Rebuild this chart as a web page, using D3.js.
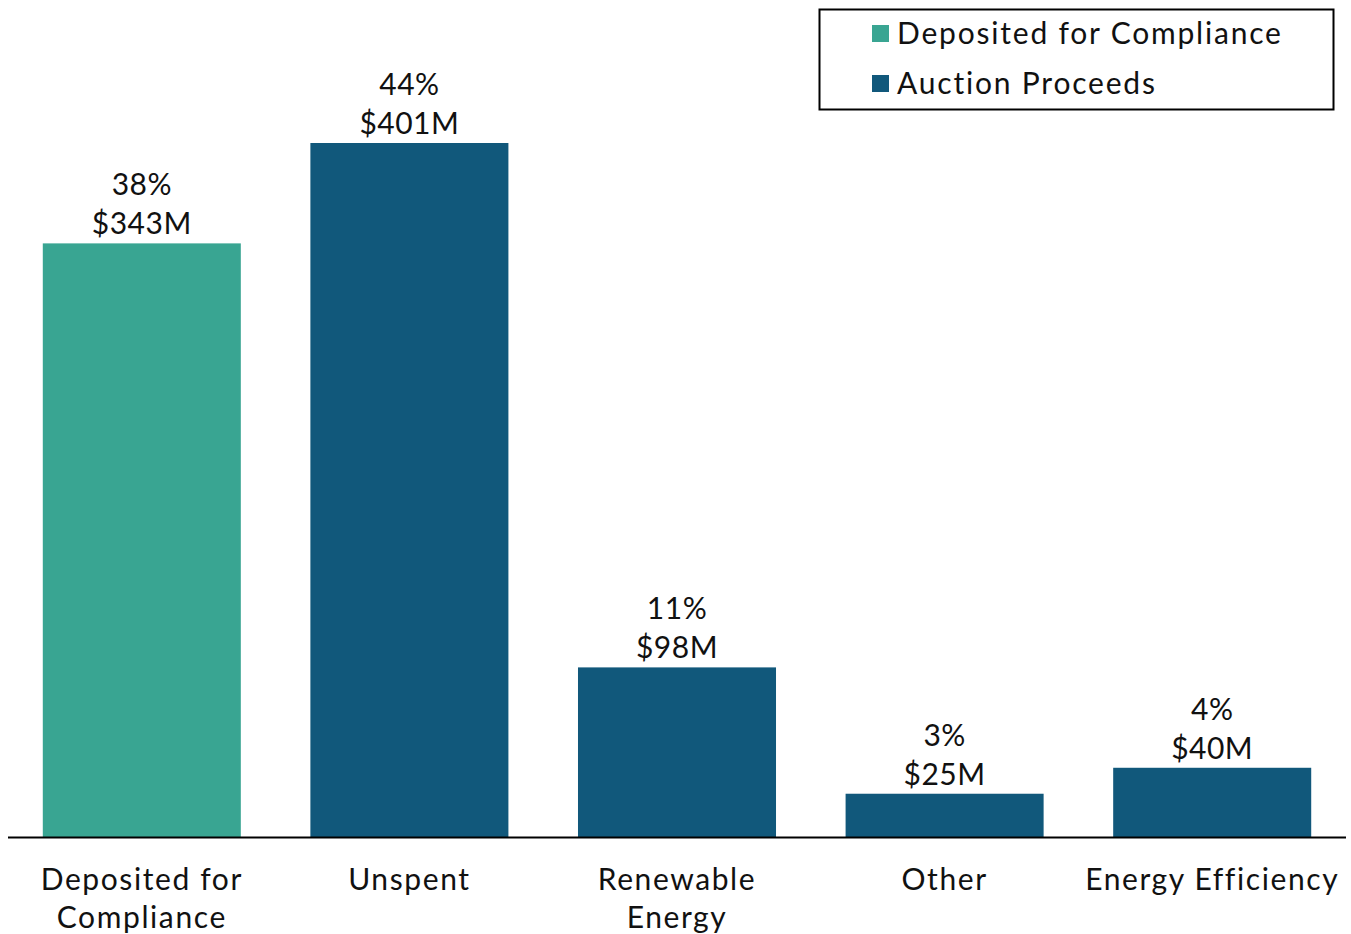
<!DOCTYPE html>
<html>
<head>
<meta charset="utf-8">
<script src="https://cdn.jsdelivr.net/npm/d3@7"></script>
<style>
  body { margin: 0; background: #fff; }
  text { font-family: Lato, "Open Sans", sans-serif; fill: #111; }
</style>
</head>
<body>
<div id="chart"></div>
<script>
// data
var categories = ["Deposited for Compliance", "Unspent", "Renewable Energy", "Other", "Energy Efficiency"];
var catLines = [["Deposited for", "Compliance"], ["Unspent"], ["Renewable", "Energy"], ["Other"], ["Energy Efficiency"]];
var values = [343, 401, 98, 25, 40];
var percents = ["38%", "44%", "11%", "3%", "4%"];
var series = ["Deposited for Compliance", "Auction Proceeds", "Auction Proceeds", "Auction Proceeds", "Auction Proceeds"];
var legendItems = ["Deposited for Compliance", "Auction Proceeds"];
var colors = { "Deposited for Compliance": "#39a592", "Auction Proceeds": "#11587b" };

var W = 1351, H = 934;
var baseY = 837;

var svg = d3.select("#chart").append("svg")
  .attr("width", W)
  .attr("height", H);

var x = d3.scaleBand().domain(categories).range([8, 1346]).paddingInner(0.26).paddingOuter(0.13);
var y = d3.scaleLinear().domain([0, 401]).range([baseY, 143]);

// bars
svg.selectAll(".bar")
  .data(categories)
  .enter()
  .append("rect")
  .attr("class", "bar")
  .attr("x", function (d) { return x(d); })
  .attr("y", function (d, i) { return y(values[i]); })
  .attr("width", x.bandwidth())
  .attr("height", function (d, i) { return baseY - y(values[i]); })
  .style("fill", function (d, i) { return colors[series[i]]; });

// value labels
var lab = svg.selectAll(".lab")
  .data(categories)
  .enter()
  .append("g")
  .attr("transform", function (d, i) { return "translate(" + (x(d) + x.bandwidth() / 2) + "," + y(values[i]) + ")"; });
lab.append("text")
  .attr("text-anchor", "middle")
  .attr("y", -48)
  .style("font-size", "30px")
  .style("letter-spacing", "0.5px")
  .text(function (d, i) { return percents[i]; });
lab.append("text")
  .attr("text-anchor", "middle")
  .attr("y", -9)
  .style("font-size", "30px")
  .style("letter-spacing", "0.5px")
  .text(function (d, i) { return "$" + values[i] + "M"; });

// axis line
svg.append("line")
  .attr("x1", 8).attr("x2", 1346)
  .attr("y1", baseY + 0.5).attr("y2", baseY + 0.5)
  .style("stroke", "#000")
  .style("stroke-width", 2);

// category labels
var cat = svg.selectAll(".cat")
  .data(categories)
  .enter()
  .append("text")
  .attr("text-anchor", "middle")
  .attr("x", function (d) { return x(d) + x.bandwidth() / 2; })
  .attr("y", 890)
  .style("font-size", "30px")
  .style("letter-spacing", "1.6px");
cat.selectAll("tspan")
  .data(function (d, i) { return catLines[i]; })
  .enter()
  .append("tspan")
  .attr("x", function () { return d3.select(this.parentNode).attr("x"); })
  .attr("dy", function (d, i) { return i == 0 ? 0 : 38; })
  .text(function (d) { return d; });

// legend
var leg = svg.append("g");
leg.append("rect")
  .attr("x", 819.5).attr("y", 9.5)
  .attr("width", 514).attr("height", 100)
  .style("fill", "#fff")
  .style("stroke", "#000")
  .style("stroke-width", 2);
legendItems.forEach(function (d, i) {
  leg.append("rect")
    .attr("x", 872).attr("y", 25 + i * 50)
    .attr("width", 17).attr("height", 17)
    .style("fill", colors[d]);
  leg.append("text")
    .attr("x", 897).attr("y", 44 + i * 50)
    .style("font-size", "30px")
    .style("letter-spacing", "1.8px")
    .text(d);
});
</script>
</body>
</html>
